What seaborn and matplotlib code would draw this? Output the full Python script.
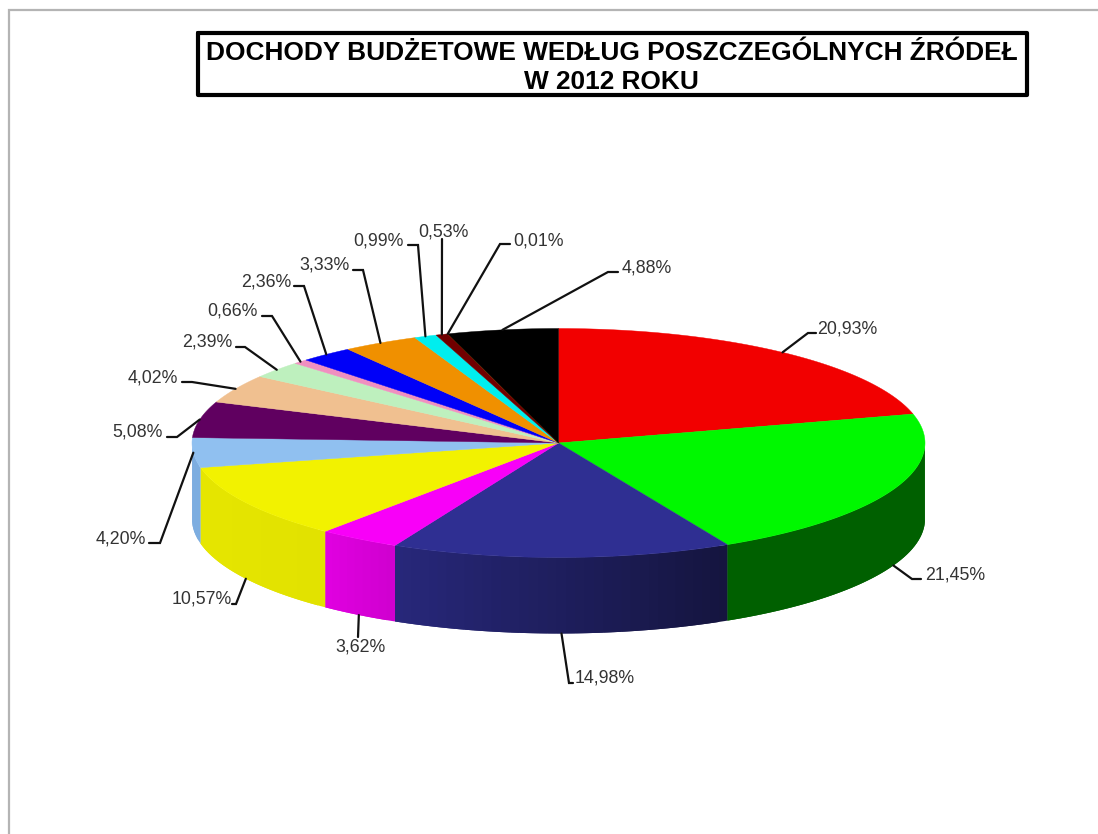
import numpy as np
import matplotlib
matplotlib.use("Agg")
import matplotlib.pyplot as plt
import seaborn as sns

# Data
values = [20.93, 21.45, 14.98, 3.62, 10.57, 4.20, 5.08, 4.02,
          2.39, 0.66, 2.36, 3.33, 0.99, 0.53, 0.01, 4.88]
top_colors = ["#f20000", "#00f800", "#2f2f92", "#f800f8", "#f2f200", "#90c0f0",
              "#600060", "#f0c090", "#bef0be", "#f090c0", "#0000f8", "#f09000",
              "#00eeee", "#700000", "#b05000", "#000000"]
side_left = ["#800000", "#006000", "#27277a", "#e000e0", "#e6e600", "#7dade0",
             "#500050", "#c09060", "#90c090", "#c07090", "#0000c0", "#c07000",
             "#00c0c0", "#500000", "#804000", "#000000"]
side_right = ["#800000", "#006000", "#15153f", "#d000d0", "#e2e200", "#7dade0",
              "#500050", "#c09060", "#90c090", "#c07090", "#0000c0", "#c07000",
              "#00c0c0", "#500000", "#804000", "#000000"]
title_lines = "DOCHODY BUDŻETOWE WEDŁUG POSZCZEGÓLNYCH ŹRÓDEŁ\nW 2012 ROKU"

# Layout, in image pixels
CX, CY, RX, RY, DEPTH = 558.5, 443, 366.5, 114.5, 76
elbows = [(808, 333), (912, 579), (569, 683), (358, 637), (236, 604), (160, 543),
          (177, 437), (192, 382), (245, 347), (272, 316), (304, 286), (363, 270),
          (418, 245), (442, 239), (500, 244), (608, 272)]
ends = [(816, 333), (921, 579), (573, 683), (358, 637), (232, 604), (149, 543),
        (167, 437), (182, 382), (236, 347), (262, 316), (294, 286), (353, 270),
        (408, 245), (442, 239), (510, 244), (618, 272)]
label_pos = [(817, 329, "left"), (925, 575, "left"), (575, 678, "left"), (360, 647, "center"),
             (232, 599, "right"), (146, 539, "right"), (163, 432, "right"), (178, 378, "right"),
             (232, 342, "right"), (258, 311, "right"), (291, 282, "right"), (350, 265, "right"),
             (404, 241, "right"), (443, 232, "center"), (513, 241, "left"), (622, 268, "left")]


def rim(t):
    return CX + RX * np.sin(t), CY - RY * np.cos(t)


sns.set_theme(style="white")
plt.rcParams["font.family"] = ["Liberation Sans", "DejaVu Sans"]

fig = plt.figure(figsize=(10.98, 8.34), dpi=100)
ax = fig.add_axes([0, 0, 1, 1])
ax.set_xlim(0, 1098)
ax.set_ylim(834, 0)
ax.axis("off")

# Outer frame, only its top and left edges are in the picture
ax.plot([9, 9, 1098], [834, 10, 10], color="#b4b4b4", lw=1.6, solid_joinstyle="miter")

# Title box
ax.plot([198, 1027, 1027, 198, 198], [33, 33, 95, 95, 33], color="black", lw=3)
ax.text(611.5, 67.5, title_lines, ha="center", va="center", fontsize=18.95,
        fontweight="bold", color="black", linespacing=1.25)

cum = np.cumsum([0] + values) / sum(values) * 2 * np.pi

# Sides of the cake, only the front half shows
for i in range(len(values)):
    t0 = max(cum[i], np.pi / 2)
    t1 = min(cum[i + 1], 3 * np.pi / 2)
    if t1 <= t0:
        continue
    n = max(int((t1 - t0) * 40), 2)
    edges = np.linspace(t0, t1, n + 1)
    # palette runs left to right on screen, t runs right to left at the front
    shades = sns.blend_palette([side_right[i], side_left[i]], n)
    for k in range(n):
        # each strip runs under the next one so no seams show
        ts = np.linspace(edges[k], edges[min(k + 2, n)], 8)
        x, y = rim(ts)
        ax.fill(np.r_[x, x[::-1]], np.r_[y, y[::-1] + DEPTH],
                color=shades[k], lw=0)

# Top face
for i in range(len(values)):
    ts = np.linspace(cum[i], cum[i + 1], max(int((cum[i + 1] - cum[i]) * 120), 2))
    x, y = rim(ts)
    ax.fill(np.r_[CX, x], np.r_[CY, y], color=top_colors[i], lw=0.3)

# Leader lines and labels
for i, v in enumerate(values):
    mid = (cum[i] + cum[i + 1]) / 2
    ax_x, ax_y = rim(mid)
    if np.pi / 2 < mid < np.radians(260):
        ax_y += DEPTH
    ax.plot([ax_x, elbows[i][0], ends[i][0]], [ax_y, elbows[i][1], ends[i][1]],
            color="#111111", lw=1.6, solid_joinstyle="miter")
    lx, ly, ha = label_pos[i]
    ax.text(lx, ly, f"{v:.2f}%".replace(".", ","), ha=ha, va="center",
            fontsize=12.8, color="#333333")

plt.savefig("out.png", dpi=100)
plt.close()
